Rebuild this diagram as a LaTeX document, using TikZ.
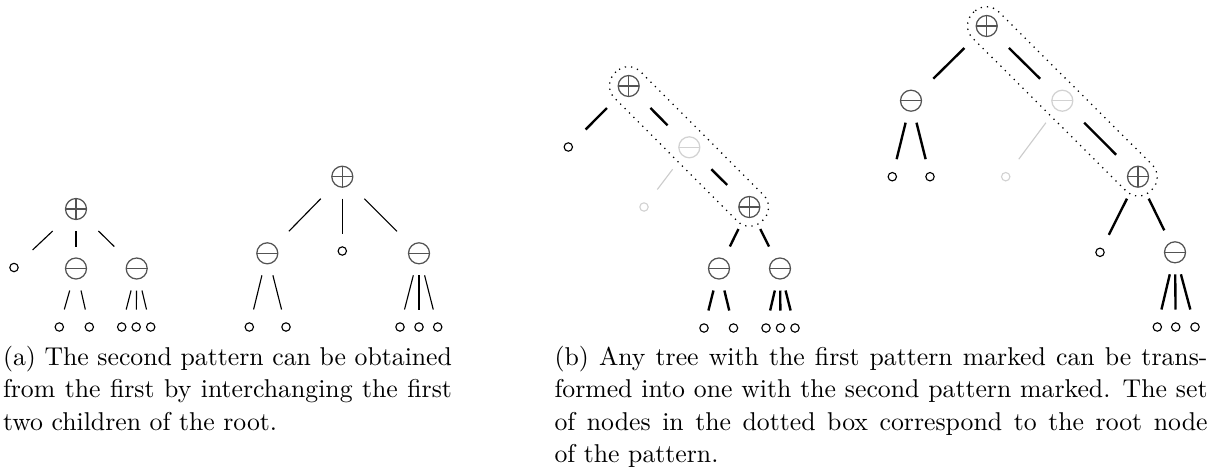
\documentclass[tikz,border=0pt]{standalone}
\usetikzlibrary{calc}
\begin{document}
\begin{tikzpicture}[x=0.4pt,y=-0.4pt,
  opnode/.style={rectangle, inner sep=0pt, minimum width=24pt, minimum height=17.2pt},
  leafnode/.style={rectangle, inner sep=0pt, minimum width=24pt, minimum height=13.6pt},
  thinedge/.style={draw=black, line width=0.45pt},
  thickedge/.style={draw=black, line width=0.95pt},
  greyedge/.style={draw=gray!40, line width=0.45pt},
  capsule/.style={draw=black, dotted, line width=0.5pt, rounded corners=7pt},
  opline/.style={draw=gray!65!black, line width=0.5pt},
  leafline/.style={draw=black, line width=0.45pt},
  captext/.style={font=\fontsize{10.3}{12.95}\selectfont, align=justify, inner sep=0pt, anchor=base west},
  pics/plussym/.style={code={\draw[opline] (0,0) circle[radius=10.5];
      \draw[opline] (-10.5,0) -- (10.5,0) (0,-10.5) -- (0,10.5);}},
  pics/minussym/.style={code={\draw[opline] (0,0) circle[radius=10.5];
      \draw[opline] (-10.5,0) -- (10.5,0);}},
  pics/leafsym/.style={code={\draw[leafline] (0,0) circle[radius=4.2];}},
  greysym/.style={opline/.style={draw=gray!35, line width=0.5pt}, leafline/.style={draw=gray!35, line width=0.45pt}}
]
\useasboundingbox (0,0) rectangle (1211,467);

% ---------- (a) first pattern ----------
\node[opnode] (a1r) at (76,209) {};
\node[leafnode] (a1l) at (14,267.5) {};
\node[opnode] (a1m) at (76,268.5) {};
\node[opnode] (a1n) at (136.7,268.5) {};
\node[leafnode] (a1m1) at (59.3,327) {};
\node[leafnode] (a1m2) at (89.3,327) {};
\node[leafnode] (a1n1) at (121.7,327) {};
\node[leafnode] (a1n2) at (136.2,327) {};
\node[leafnode] (a1n3) at (150.7,327) {};
\pic at (a1r) {plussym};
\pic at (a1m) {minussym};
\pic at (a1n) {minussym};
\foreach \n in {a1l,a1m1,a1m2,a1n1,a1n2,a1n3} \pic at (\n) {leafsym};
\draw[thinedge] (a1r) -- (a1l);
\draw[thinedge] (a1r) -- (a1m);
\draw[thinedge] (a1r) -- (a1n);
\draw[thinedge] (a1m) -- (a1m1);
\draw[thinedge] (a1m) -- (a1m2);
\draw[thinedge] (a1n) -- (a1n1);
\draw[thinedge] (a1n) -- (a1n2);
\draw[thinedge] (a1n) -- (a1n3);

% ---------- (a) second pattern ----------
\node[opnode] (dA) at (342.3,176.7) {};
\node[opnode] (dL) at (267.3,253.3) {};
\node[leafnode] (dM) at (342.3,251) {};
\node[opnode] (dR) at (419,253.3) {};
\node[leafnode] (dL1) at (249.3,327) {};
\node[leafnode] (dL2) at (286,327) {};
\node[leafnode] (dR1) at (400,327) {};
\node[leafnode] (dR2) at (419,327) {};
\node[leafnode] (dR3) at (437.7,327) {};
\pic at (dA) {plussym};
\pic at (dL) {minussym};
\pic at (dR) {minussym};
\foreach \n in {dM,dL1,dL2,dR1,dR2,dR3} \pic at (\n) {leafsym};
\draw[thinedge] (dA) -- (dL);
\draw[thinedge] (dA) -- (dM);
\draw[thinedge] (dA) -- (dR);
\draw[thinedge] (dL) -- (dL1);
\draw[thinedge] (dL) -- (dL2);
\draw[thinedge] (dR) -- (dR1);
\draw[thinedge] (dR) -- (dR2);
\draw[thinedge] (dR) -- (dR3);

% ---------- (b) first tree ----------
\node[opnode] (bA) at (628.7,86) {};
\node[leafnode] (bAl) at (568.3,147) {};
\node[opnode] (bG) at (689.3,147.3) {};
\node[leafnode] (bGl) at (644,207) {};
\node[opnode] (bB) at (749.3,207) {};
\node[opnode] (bC) at (719,268.5) {};
\node[opnode] (bD) at (780,268.5) {};
\node[leafnode] (bC1) at (704,328) {};
\node[leafnode] (bC2) at (733.5,328) {};
\node[leafnode] (bD1) at (766,328) {};
\node[leafnode] (bD2) at (780.5,328) {};
\node[leafnode] (bD3) at (795,328) {};
\pic at (bA) {plussym};
\pic[greysym] at (bG) {minussym};
\pic[greysym] at (bGl) {leafsym};
\pic at (bB) {plussym};
\pic at (bC) {minussym};
\pic at (bD) {minussym};
\foreach \n in {bAl,bC1,bC2,bD1,bD2,bD3} \pic at (\n) {leafsym};
\draw[thickedge] (bA) -- (bAl);
\draw[thickedge] (bA) -- (bG);
\draw[greyedge] (bG) -- (bGl);
\draw[thickedge] (bG) -- (bB);
\draw[thickedge] (bB) -- (bC);
\draw[thickedge] (bB) -- (bD);
\draw[thickedge] (bC) -- (bC1);
\draw[thickedge] (bC) -- (bC2);
\draw[thickedge] (bD) -- (bD1);
\draw[thickedge] (bD) -- (bD2);
\draw[thickedge] (bD) -- (bD3);
\begin{scope}[shift={(bA.center)}, rotate=-45.09]
  \draw[capsule] (-19,-18.5) rectangle (189.8,18.5);
\end{scope}

% ---------- (b) second tree ----------
\node[opnode] (cA) at (986.7,26) {};
\node[opnode] (cL) at (911,100.7) {};
\node[opnode] (cG) at (1062.3,100.7) {};
\node[leafnode] (cL1) at (892.3,176.7) {};
\node[leafnode] (cL2) at (930,176.7) {};
\node[leafnode] (cGl) at (1005.7,176.7) {};
\node[opnode] (cB) at (1138,176.7) {};
\node[leafnode] (cBl) at (1100,252.3) {};
\node[opnode] (cD) at (1175,252.3) {};
\node[leafnode] (cD1) at (1157.3,327) {};
\node[leafnode] (cD2) at (1175.7,327) {};
\node[leafnode] (cD3) at (1195,327) {};
\pic at (cA) {plussym};
\pic at (cL) {minussym};
\pic[greysym] at (cG) {minussym};
\pic[greysym] at (cGl) {leafsym};
\pic at (cB) {plussym};
\pic at (cD) {minussym};
\foreach \n in {cL1,cL2,cBl,cD1,cD2,cD3} \pic at (\n) {leafsym};
\draw[thickedge] (cA) -- (cL);
\draw[thickedge] (cA) -- (cG);
\draw[thickedge] (cL) -- (cL1);
\draw[thickedge] (cL) -- (cL2);
\draw[greyedge] (cG) -- (cGl);
\draw[thickedge] (cG) -- (cB);
\draw[thickedge] (cB) -- (cBl);
\draw[thickedge] (cB) -- (cD);
\draw[thickedge] (cD) -- (cD1);
\draw[thickedge] (cD) -- (cD2);
\draw[thickedge] (cD) -- (cD3);
\begin{scope}[shift={(cA.center)}, rotate=-44.89]
  \draw[capsule] (-19,-18.5) rectangle (232.5,18.5);
\end{scope}

% ---------- captions ----------
\node[captext, text width=179.6pt] (capa) at (2.5,365.5)
  {(a) The second pattern can be obtained\linebreak from the first by interchanging the first\linebreak two children of the root.};
\node[captext, text width=261.2pt] (capb) at (554,365.5)
  {(b) Any tree with the first pattern marked can be trans-\linebreak formed into one with the second pattern marked. The set\linebreak of nodes in the dotted box correspond to the root node\linebreak of the pattern.};
\end{tikzpicture}
\end{document}
